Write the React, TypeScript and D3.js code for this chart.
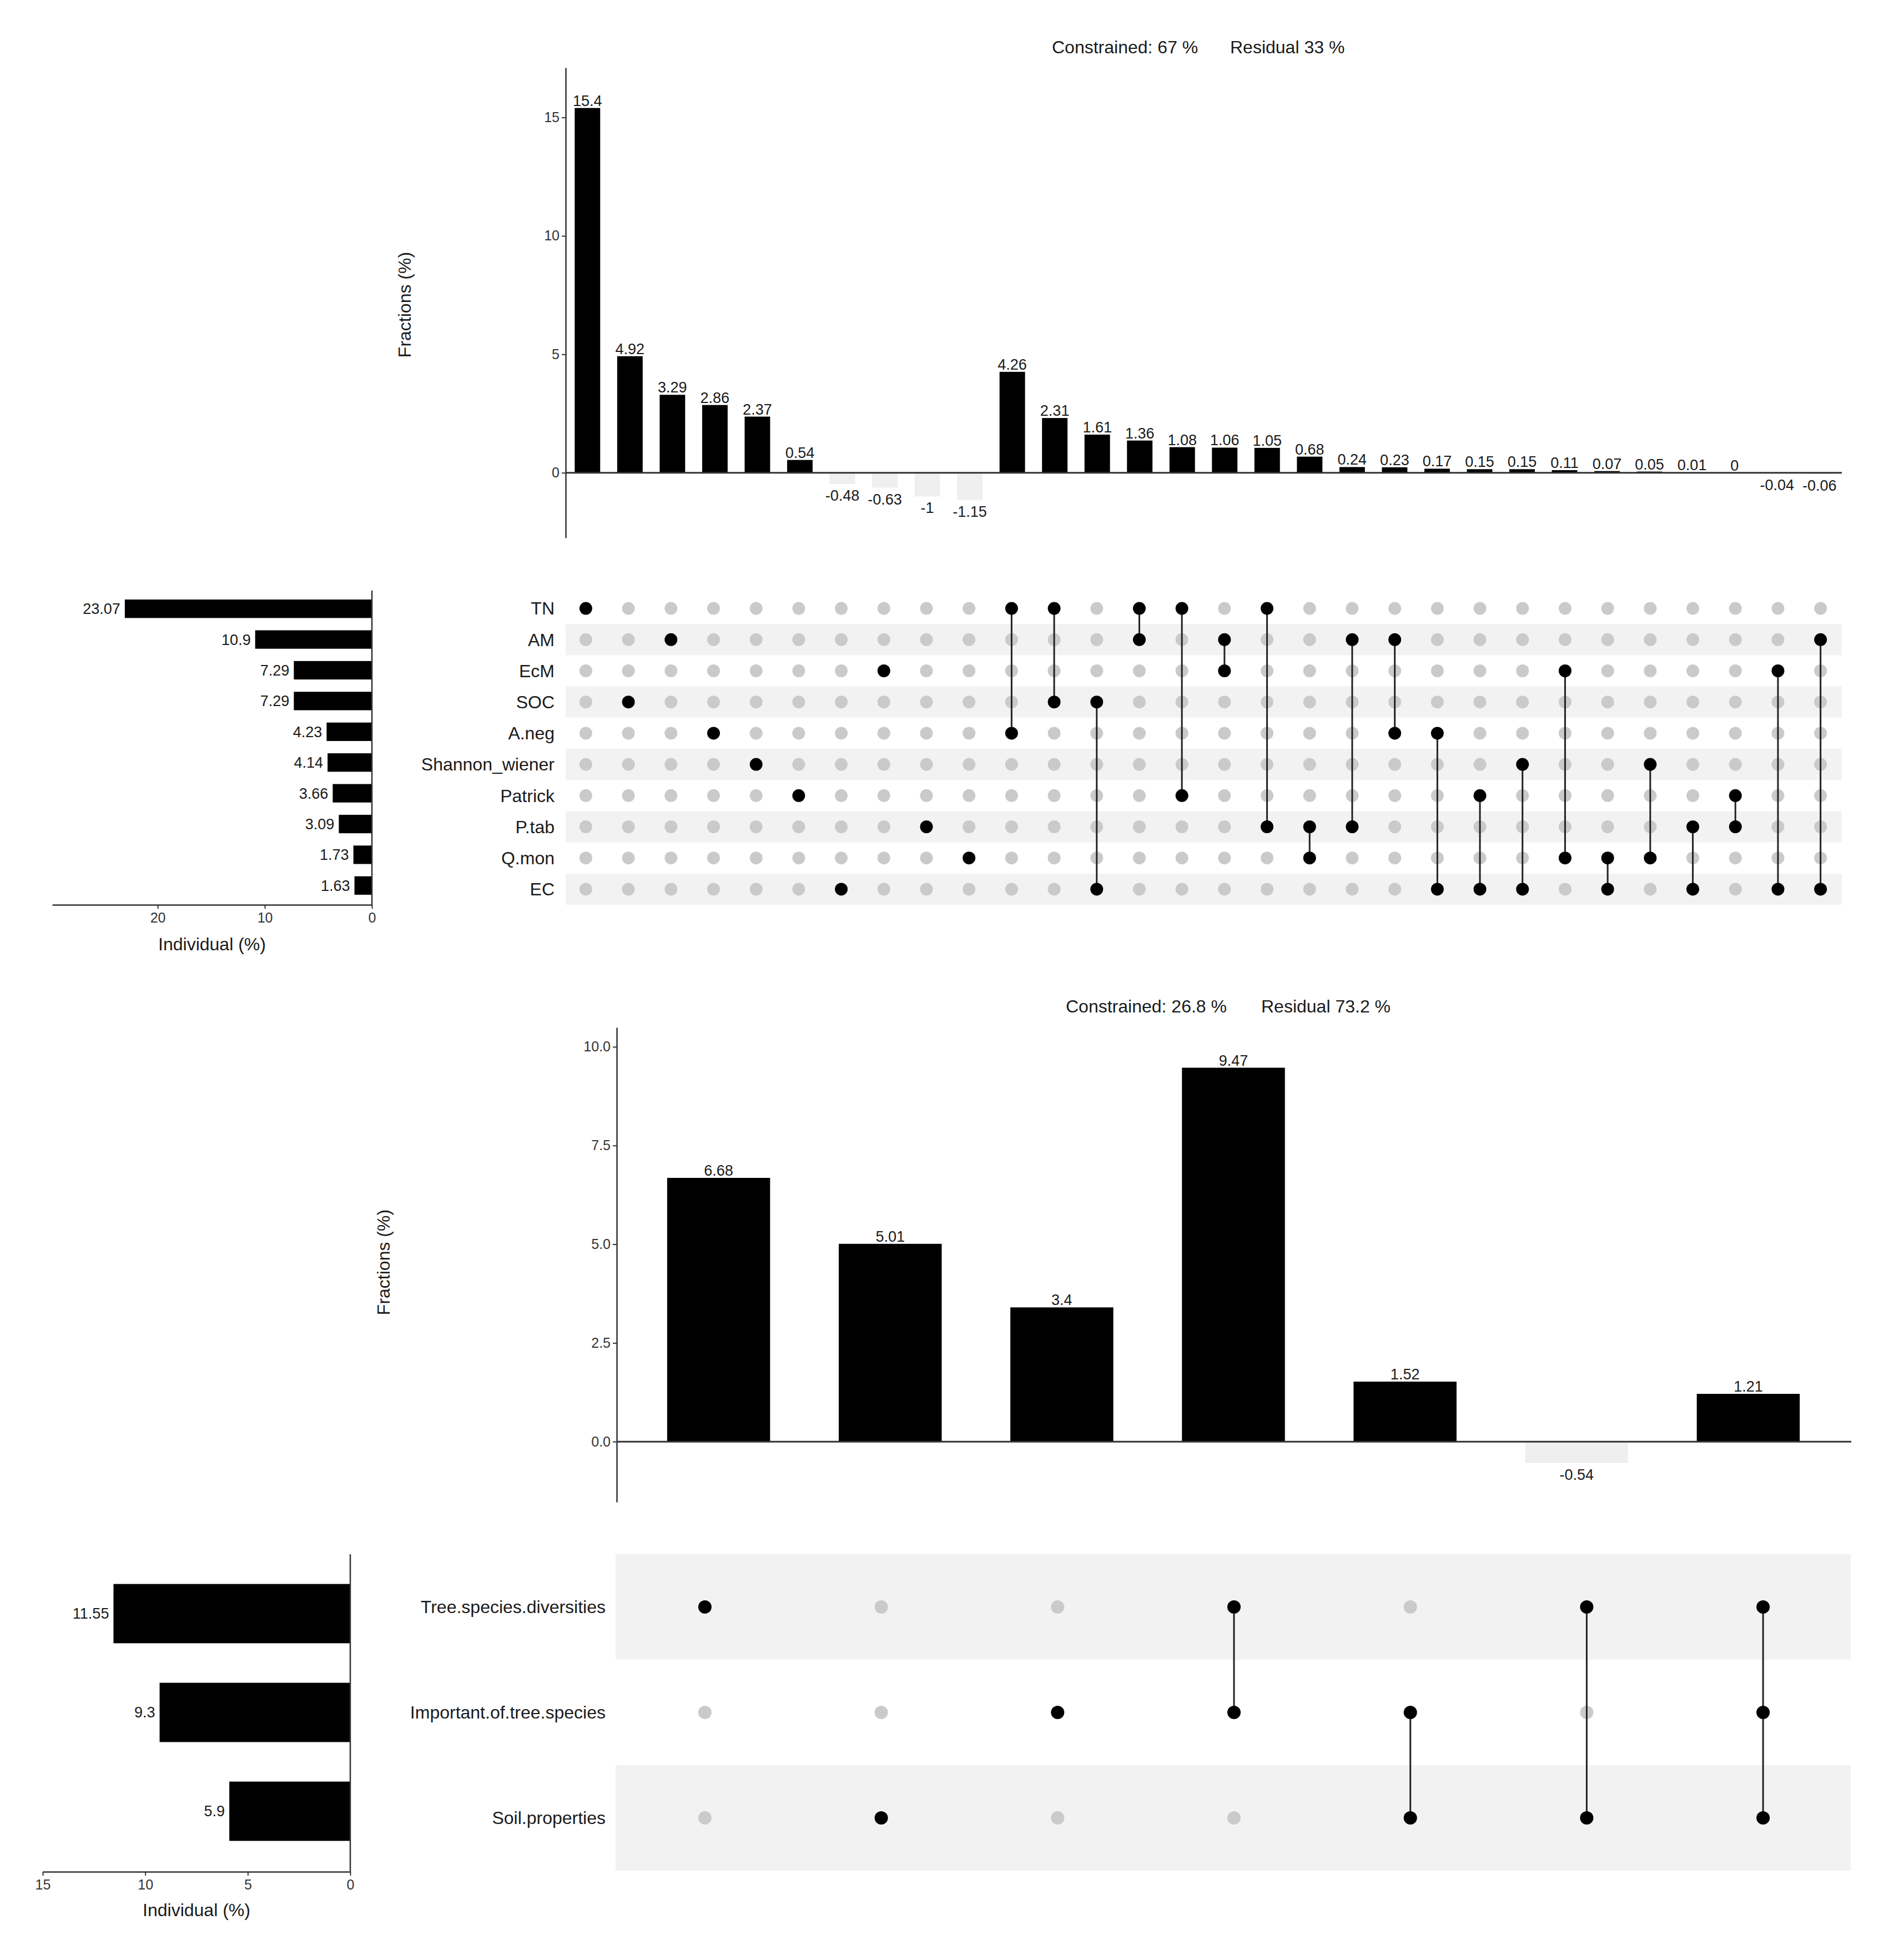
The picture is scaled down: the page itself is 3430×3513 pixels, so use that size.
import * as d3 from "d3";
import { useRef, useEffect } from "react";

const W = 3430;
const H = 3513;

// ---- upper panel: ten explanatory variables ----
const topSets = ["TN", "AM", "EcM", "SOC", "A.neg", "Shannon_wiener", "Patrick", "P.tab", "Q.mon", "EC"];
const topSetSizes = [23.07, 10.9, 7.29, 7.29, 4.23, 4.14, 3.66, 3.09, 1.73, 1.63];
const topFractions = [15.4, 4.92, 3.29, 2.86, 2.37, 0.54, -0.48, -0.63, -1, -1.15, 4.26, 2.31, 1.61, 1.36, 1.08, 1.06, 1.05, 0.68, 0.24, 0.23, 0.17, 0.15, 0.15, 0.11, 0.07, 0.05, 0.01, 0, -0.04, -0.06];
const topCombos = [
  ["TN"], ["SOC"], ["AM"], ["A.neg"], ["Shannon_wiener"], ["Patrick"], ["EC"], ["EcM"], ["P.tab"], ["Q.mon"],
  ["TN", "A.neg"], ["TN", "SOC"], ["SOC", "EC"], ["TN", "AM"], ["TN", "Patrick"], ["AM", "EcM"], ["TN", "P.tab"], ["P.tab", "Q.mon"], ["AM", "P.tab"], ["AM", "A.neg"],
  ["A.neg", "EC"], ["Patrick", "EC"], ["Shannon_wiener", "EC"], ["EcM", "Q.mon"], ["Q.mon", "EC"], ["Shannon_wiener", "Q.mon"], ["P.tab", "EC"], ["Patrick", "P.tab"], ["EcM", "EC"], ["AM", "EC"],
];
const topTotals = ["Constrained: 67 %", "Residual 33 %"];
const topYTicks = [0, 5, 10, 15];
const topXTicks = [0, 10, 20];

// ---- lower panel: three groups of variables ----
const bottomSets = ["Tree.species.diversities", "Important.of.tree.species", "Soil.properties"];
const bottomSetSizes = [11.55, 9.3, 5.9];
const bottomFractions = [6.68, 5.01, 3.4, 9.47, 1.52, -0.54, 1.21];
const bottomCombos = [
  ["Tree.species.diversities"],
  ["Soil.properties"],
  ["Important.of.tree.species"],
  ["Tree.species.diversities", "Important.of.tree.species"],
  ["Important.of.tree.species", "Soil.properties"],
  ["Tree.species.diversities", "Soil.properties"],
  ["Tree.species.diversities", "Important.of.tree.species", "Soil.properties"],
];
const bottomTotals = ["Constrained: 26.8 %", "Residual 73.2 %"];
const bottomYTicks = [0, 2.5, 5, 7.5, 10];
const bottomXTicks = [0, 5, 10, 15];

const FONT = "'Liberation Sans', Arial, sans-serif";

// pixel layout of each panel
const topLayout = {
  titleY: 96, title1X: 1895, title2X: 2216,
  axisX: 1019, yTop: 122, yBottom: 969, yDomain: [-2.75, 17.1], yFmt: "d",
  barX: [1020, 3316], barPad: 0.4, zeroEnd: 3318,
  yLabX: 740, yLabY: 549,
  dotX: [1017, 3318], rowY: [1068, 1630], stripeX: [1019, 3318], setLabelX: 999, dotR: 11.5, lineW: 3,
  leftAxisX: 670, leftEnd: 94, leftMax: 29.85, leftY: [1069, 1623], leftTop: 1064, leftAxisY: 1630,
  leftTitleY: 1712,
};

const bottomLayout = {
  titleY: 1824, title1X: 1920, title2X: 2272,
  axisX: 1111, yTop: 1851, yBottom: 2706, yDomain: [-1.53, 10.49], yFmt: ".1f",
  barX: [1140, 3304], barPad: 0.4, zeroEnd: 3335,
  yLabX: 702, yLabY: 2274,
  dotX: [1111, 3335], rowY: [2800, 3370], stripeX: [1109, 3334], setLabelX: 1091, dotR: 12, lineW: 3,
  leftAxisX: 631, leftEnd: 77, leftMax: 15, leftY: [2818, 3352], leftTop: 2800, leftAxisY: 3372,
  leftTitleY: 3452,
};

function drawPanel(svg, sets, sizes, fractions, combos, totals, yTicks, xTicks, L) {
  const g = svg.append("g").style("font-family", FONT);

  // title with constrained / residual
  g.append("text").attr("x", L.title1X).attr("y", L.titleY).style("font-size", "32px").attr("fill", "#1a1a1a").text(totals[0]);
  g.append("text").attr("x", L.title2X).attr("y", L.titleY).style("font-size", "32px").attr("fill", "#1a1a1a").text(totals[1]);

  // intersection bars
  const x = d3.scaleBand().domain(d3.range(fractions.length)).range(L.barX).paddingInner(L.barPad).paddingOuter(L.barPad / 2);
  const y = d3.scaleLinear().domain(L.yDomain).range([L.yBottom, L.yTop]);

  g.selectAll("rect.bar").data(fractions).enter().append("rect")
    .attr("class", "bar")
    .attr("x", (d, i) => x(i))
    .attr("width", x.bandwidth())
    .attr("y", d => Math.min(y(d), y(0)))
    .attr("height", d => Math.abs(y(d) - y(0)))
    .attr("fill", d => d < 0 ? "#efefef" : "#000");

  g.append("line").attr("x1", L.axisX).attr("x2", L.zeroEnd).attr("y1", y(0)).attr("y2", y(0))
    .attr("stroke", "#333").attr("stroke-width", 3);

  g.selectAll("text.val").data(fractions).enter().append("text")
    .attr("class", "val")
    .attr("x", (d, i) => x(i) + x.bandwidth() / 2)
    .attr("y", d => d < 0 ? y(d) + 30 : y(d) - 4)
    .attr("text-anchor", "middle")
    .attr("fill", "#1a1a1a")
    .style("font-size", "27px")
    .text(d => String(d));

  const yAxis = g.append("g").attr("transform", `translate(${L.axisX},0)`)
    .call(d3.axisLeft(y).tickValues(yTicks).tickFormat(d3.format(L.yFmt)).tickSize(7).tickSizeOuter(0));
  yAxis.select(".domain").attr("stroke", "#333").attr("stroke-width", 2.5);
  yAxis.selectAll(".tick line").attr("stroke", "#333").attr("stroke-width", 2);
  yAxis.selectAll(".tick text").attr("fill", "#333").style("font-size", "25px").style("font-family", FONT).attr("x", -11);

  g.append("text").attr("transform", `translate(${L.yLabX},${L.yLabY}) rotate(-90)`)
    .attr("text-anchor", "middle").style("font-size", "32px").attr("fill", "#1a1a1a").text("Fractions (%)");

  // matrix of set membership
  const xd = d3.scalePoint().domain(d3.range(combos.length)).range(L.dotX).padding(0.5);
  const row = d3.scaleBand().domain(sets).range(L.rowY);
  const cy = s => row(s) + row.bandwidth() / 2;

  // stripes alternate counting up from the last row
  g.selectAll("rect.stripe").data(sets.filter((s, i) => (sets.length - 1 - i) % 2 === 0)).enter().append("rect")
    .attr("class", "stripe")
    .attr("x", L.stripeX[0]).attr("width", L.stripeX[1] - L.stripeX[0])
    .attr("y", s => row(s)).attr("height", row.bandwidth())
    .attr("fill", "#f2f2f2");

  g.selectAll("text.setlab").data(sets).enter().append("text")
    .attr("class", "setlab")
    .attr("x", L.setLabelX).attr("y", cy)
    .attr("dy", "0.35em").attr("text-anchor", "end")
    .style("font-size", "32px").attr("fill", "#1a1a1a")
    .text(s => s);

  const cells = [];
  combos.forEach((c, i) => sets.forEach(s => cells.push({ i, s, on: c.includes(s) })));

  g.selectAll("circle.off").data(cells.filter(c => !c.on)).enter().append("circle")
    .attr("class", "off").attr("cx", c => xd(c.i)).attr("cy", c => cy(c.s)).attr("r", L.dotR).attr("fill", "#cacaca");

  g.selectAll("line.link").data(combos.map((c, i) => ({ c, i })).filter(o => o.c.length > 1)).enter().append("line")
    .attr("class", "link")
    .attr("x1", o => xd(o.i)).attr("x2", o => xd(o.i))
    .attr("y1", o => d3.min(o.c, cy)).attr("y2", o => d3.max(o.c, cy))
    .attr("stroke", "#222").attr("stroke-width", L.lineW);

  g.selectAll("circle.on").data(cells.filter(c => c.on)).enter().append("circle")
    .attr("class", "on").attr("cx", c => xd(c.i)).attr("cy", c => cy(c.s)).attr("r", L.dotR).attr("fill", "#000");

  // individual fractions (set size bars, drawn to the left)
  const xl = d3.scaleLinear().domain([0, L.leftMax]).range([L.leftAxisX, L.leftEnd]);
  const yl = d3.scaleBand().domain(sets).range(L.leftY).paddingInner(0.4).paddingOuter(0.2);

  g.selectAll("rect.size").data(sizes).enter().append("rect")
    .attr("class", "size")
    .attr("x", d => xl(d)).attr("width", d => xl(0) - xl(d))
    .attr("y", (d, i) => yl(sets[i])).attr("height", yl.bandwidth())
    .attr("fill", "#000");

  g.selectAll("text.sizelab").data(sizes).enter().append("text")
    .attr("class", "sizelab")
    .attr("x", d => xl(d) - 8).attr("y", (d, i) => yl(sets[i]) + yl.bandwidth() / 2)
    .attr("dy", "0.35em").attr("text-anchor", "end")
    .style("font-size", "27px").attr("fill", "#1a1a1a")
    .text(d => String(d));

  g.append("line").attr("x1", L.leftAxisX).attr("x2", L.leftAxisX).attr("y1", L.leftTop).attr("y2", L.leftAxisY)
    .attr("stroke", "#333").attr("stroke-width", 2.5);

  const xAxis = g.append("g").attr("transform", `translate(0,${L.leftAxisY})`)
    .call(d3.axisBottom(xl).tickValues(xTicks).tickFormat(d3.format("d")).tickSize(7).tickSizeOuter(0));
  xAxis.select(".domain").attr("stroke", "#333").attr("stroke-width", 2.5);
  xAxis.selectAll(".tick line").attr("stroke", "#333").attr("stroke-width", 2);
  xAxis.selectAll(".tick text").attr("fill", "#333").style("font-size", "25px").style("font-family", FONT).attr("y", 14);

  g.append("text").attr("x", (L.leftAxisX + L.leftEnd) / 2).attr("y", L.leftTitleY)
    .attr("text-anchor", "middle").style("font-size", "32px").attr("fill", "#1a1a1a").text("Individual (%)");
}

export default function App() {
  const svgRef = useRef(null);

  useEffect(() => {
    const svg = d3.select(svgRef.current);
    svg.selectAll("*").remove();
    svg.append("rect").attr("width", W).attr("height", H).attr("fill", "#fff");
    drawPanel(svg, topSets, topSetSizes, topFractions, topCombos, topTotals, topYTicks, topXTicks, topLayout);
    drawPanel(svg, bottomSets, bottomSetSizes, bottomFractions, bottomCombos, bottomTotals, bottomYTicks, bottomXTicks, bottomLayout);
  }, []);

  return (
    <svg ref={svgRef} width={W} height={H} style={{ position: "absolute", left: 0, top: 0, display: "block" }} />
  );
}
